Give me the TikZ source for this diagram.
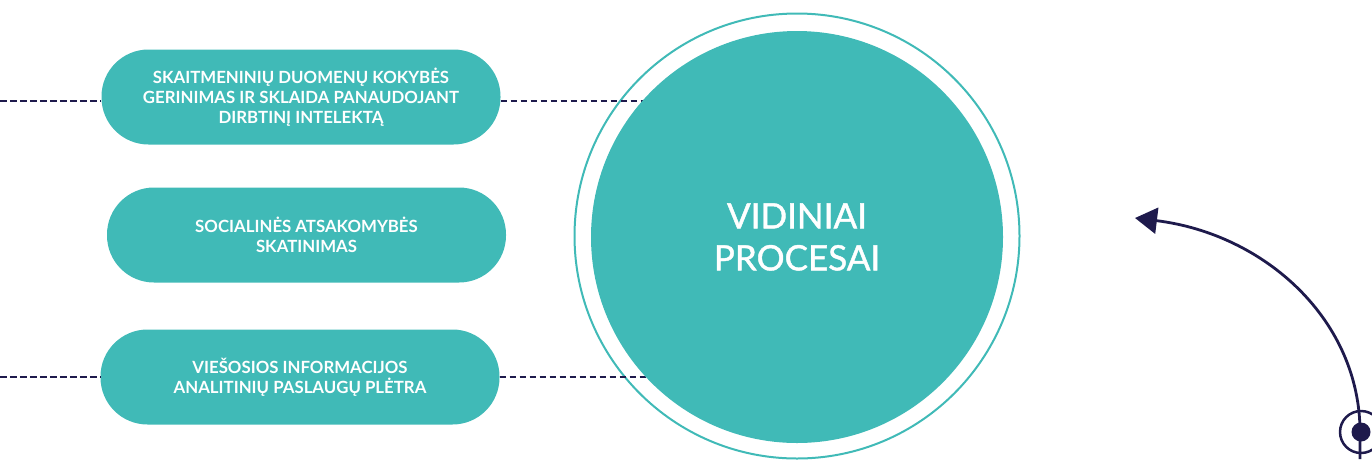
\documentclass[tikz,border=0pt]{standalone}
\usepackage{fontspec}
\setmainfont{Lato}
\usetikzlibrary{arrows.meta}
\definecolor{tealA}{HTML}{40BAB7}
\definecolor{navyA}{HTML}{1E1A4C}
\begin{document}
\begin{tikzpicture}[x=1pt,y=-1pt,
  pill/.style={fill=tealA, rounded corners=47pt, minimum width=399pt, minimum height=95pt,
    inner sep=0pt, text=white, align=center, font=\bfseries\fontsize{16.8}{19.7}\selectfont},
  dashline/.style={draw=navyA, line width=2.7pt, dash pattern=on 6.5pt off 3.5pt},
  arcline/.style={draw=navyA, line width=2.8pt}]
\useasboundingbox (0,0) rectangle (1372,459);
% pills
\node[pill] (p1) at (301,97) {SKAITMENINIŲ DUOMENŲ KOKYBĖS\\GERINIMAS IR SKLAIDA PANAUDOJANT\\DIRBTINĮ INTELEKTĄ};
\node[pill] (p2) at (306.5,235) {SOCIALINĖS ATSAKOMYBĖS\\SKATINIMAS};
\node[pill] (p3) at (300,377) {VIEŠOSIOS INFORMACIJOS\\ANALITINIŲ PASLAUGŲ PLĖTRA};
% outer ring
\node[circle, draw=tealA, line width=2pt, minimum size=445pt, inner sep=0pt] (ring) at (797,236) {};
% dashed connectors
\coordinate (l1) at (0,101);
\coordinate (l3) at (0,377);
\draw[dashline] (l1) -- (p1.west |- l1);
\draw[dashline] (p1.east |- l1) -- (ring.center |- l1);
\draw[dashline] (l3) -- (p3.west |- l3);
\draw[dashline] (p3.east |- l3) -- (ring.center |- l3);
% inner circle
\node[circle, fill=tealA, minimum size=412pt, inner sep=0pt, text=white, align=center,
  font=\fontsize{35}{42}\selectfont\addfontfeature{FakeBold=1.2}] (c) at (797,237) {VIDINIAI\\PROCESAI};
% marker and arc
\node[circle, draw=navyA, line width=2.5pt, minimum size=42pt, inner sep=0pt] (m) at (1361,432) {};
\node[circle, fill=navyA, minimum size=19pt, inner sep=0pt] (md) at (1361,432) {};
\coordinate (bot) at (1360,459);
\coordinate (tip) at (1135,218);
\draw[arcline, -{Triangle[length=22pt,width=26pt]}] (bot) -- (1360,432) .. controls (1360,320) and (1265,234) .. (tip);
\end{tikzpicture}
\end{document}
